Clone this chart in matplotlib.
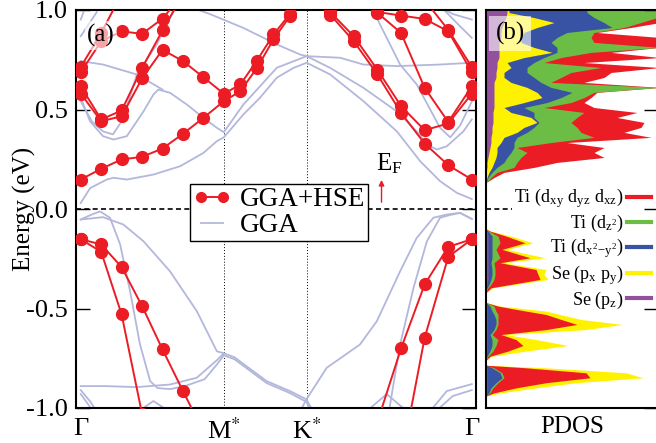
import numpy as np
import matplotlib.pyplot as plt
from matplotlib.lines import Line2D

plt.rcParams['font.family'] = 'serif'
plt.rcParams['font.serif'] = ['Liberation Serif', 'DejaVu Serif']
plt.rcParams['mathtext.fontset'] = 'stix'

# k-path Gamma - M* - K* - Gamma (hexagonal, 1/sqrt3, 1/3, 2/3)
k_ticks = [0.0, 0.5774, 0.9107, 1.5774]
k_labels = ['\u0393', r'M$^{*}$', r'K$^{*}$', '\u0393']
k_hse = np.concatenate([np.linspace(0.0, 0.5774, 8),
                        np.linspace(0.5774, 0.9107, 6)[1:],
                        np.linspace(0.9107, 1.5774, 8)[1:]])

nan = np.nan
# GGA+HSE bands on the 20 k-points (eV)
hse_c1 = [0.148, 0.202, 0.249, 0.262, 0.304, 0.378, 0.458, 0.542, 0.592, 0.709,
          0.852, 0.970, 1.08, 0.977, 0.843, 0.676, 0.483, 0.329, 0.220, 0.148]
hse_c2 = [0.580, 0.441, 0.466, 0.656, 0.800, 0.743, 0.662, 0.579, 0.626, 0.746,
          0.877, 0.980, 1.10, 0.990, 0.868, 0.700, 0.517, 0.396, 0.430, 0.580]
hse_c3 = [0.617, 0.450, 0.495, 0.709, 0.897, 1.08, nan, nan, nan, nan,
          nan, nan, nan, nan, 1.10, 0.986, 0.885, 0.609, 0.437, 0.617]
hse_c4 = [0.687, 0.843, 0.893, 0.880, 0.957, 1.08, nan, nan, nan, nan,
          nan, nan, nan, nan, 1.08, 0.990, 0.972, 0.955, 0.893, 0.687]
hse_c5 = [0.713, 0.885, 1.08, nan, nan, nan, nan, nan, nan, nan,
          nan, nan, nan, nan, nan, nan, nan, 1.05, 0.900, 0.713]
hse_v1 = [-0.152, -0.178, -0.292, -0.488, -0.706, -0.915, -1.12, nan, nan, nan,
          nan, nan, nan, nan, nan, -1.07, -0.701, -0.379, -0.190, -0.152]
hse_v2 = [-0.152, -0.215, -0.530, -1.03, nan, nan, nan, nan, nan, nan,
          nan, nan, nan, nan, nan, nan, -1.27, -0.647, -0.240, -0.152]
hse_bands = [hse_c1, hse_c2, hse_c3, hse_c4, hse_c5, hse_v1, hse_v2]

# GGA bands as (k, E) traces
gga_bands = [
    [(0, 0.03), (0.038, 0.105), (0.105, 0.148), (0.132, 0.157), (0.186, 0.148),
     (0.293, 0.173), (0.401, 0.215), (0.495, 0.282), (0.549, 0.341), (0.577, 0.36),
     (0.656, 0.475), (0.723, 0.559), (0.791, 0.66), (0.858, 0.709), (0.911, 0.735),
     (1.006, 0.676), (1.140, 0.542), (1.275, 0.39), (1.369, 0.24), (1.449, 0.14),
     (1.517, 0.081), (1.577, 0.05)],
    [(0, 0.559), (0.038, 0.44), (0.090, 0.366), (0.132, 0.349), (0.186, 0.366),
     (0.253, 0.49), (0.293, 0.575), (0.313, 0.60), (0.360, 0.584), (0.428, 0.525),
     (0.495, 0.458), (0.549, 0.408), (0.577, 0.386), (0.656, 0.525), (0.791, 0.71),
     (0.911, 0.768), (1.006, 0.709), (1.140, 0.609), (1.275, 0.49), (1.355, 0.39),
     (1.396, 0.324), (1.436, 0.299), (1.476, 0.315), (1.543, 0.39), (1.577, 0.45)],
    [(0, 0.542), (0.045, 0.44), (0.09, 0.39), (0.13, 0.375), (0.17, 0.45),
     (0.20, 0.57), (0.226, 0.676), (0.307, 0.827), (0.36, 0.96), (0.40, 1.05)],
    [(1.15, 1.05), (1.180, 0.994), (1.288, 0.726), (1.355, 0.626), (1.449, 0.408),
     (1.49, 0.36), (1.53, 0.42), (1.577, 0.54)],
    [(0, 0.743), (0.09, 0.726), (0.226, 0.676), (0.33, 0.60)],
    [(0, 0.868), (0.063, 0.986), (0.08, 1.05)],
    [(0, 0.952), (0.03, 1.05)],
    [(0.43, 1.02), (0.52, 0.98), (0.656, 0.91), (0.791, 0.827), (0.885, 0.776),
     (0.911, 0.768), (1.046, 0.76), (1.140, 0.726), (1.275, 0.718), (1.449, 0.726),
     (1.577, 0.735)],
    [(1.45, 1.02), (1.52, 0.93), (1.577, 0.86)],
    [(1.40, 1.05), (1.50, 0.98), (1.577, 0.952)],
    [(0, -0.053), (0.04, -0.03), (0.078, -0.012), (0.118, -0.044), (0.159, -0.178),
     (0.199, -0.413), (0.239, -0.68), (0.28, -0.865), (0.31, -0.90), (0.36, -0.905),
     (0.42, -0.89), (0.50, -0.855), (0.55, -0.78), (0.577, -0.735)],
    [(0, -0.89), (0.1, -0.89), (0.226, -0.895), (0.36, -0.882), (0.468, -0.848),
     (0.549, -0.76), (0.577, -0.725)],
    [(0, -0.053), (0.09, -0.041), (0.172, -0.078), (0.253, -0.162), (0.360, -0.313),
     (0.468, -0.513), (0.549, -0.715), (0.577, -0.725), (0.62, -0.745),
     (0.75, -0.865), (0.844, -0.915), (0.911, -0.957), (0.95, -1.05)],
    [(0.577, -0.735), (0.62, -0.755), (0.75, -0.875), (0.844, -0.925),
     (0.911, -0.97), (0.94, -1.05)],
    [(0.87, -1.05), (0.911, -0.955), (0.992, -0.798), (1.126, -0.681),
     (1.194, -0.564), (1.288, -0.313), (1.355, -0.145), (1.422, -0.044),
     (1.476, -0.028), (1.53, -0.019), (1.577, -0.05)],
    [(1.577, -0.05), (1.53, -0.02), (1.490, -0.03), (1.449, -0.044), (1.396, -0.162),
     (1.342, -0.396), (1.288, -0.681), (1.261, -0.882), (1.248, -0.98), (1.24, -1.05)],
    [(0.23, -1.02), (0.293, -0.965), (0.36, -1.02)],
    [(1.14, -1.03), (1.234, -0.93), (1.30, -1.0)],
    [(1.40, -1.03), (1.476, -0.915), (1.577, -0.88)],
    [(1.42, -1.03), (1.50, -0.94), (1.577, -0.91)],
    [(0, -0.91), (0.04, -0.97), (0.08, -1.05)],
    [(0, -0.93), (0.035, -0.99), (0.06, -1.05)],
]

# projected DOS above E_F (arb. units)
e_cb = [0.133, 0.158, 0.184, 0.209, 0.234, 0.259, 0.284, 0.309, 0.334, 0.360,
        0.385, 0.410, 0.435, 0.460, 0.485, 0.510, 0.535, 0.560, 0.586, 0.611,
        0.636, 0.661, 0.686, 0.711, 0.736, 0.761, 0.787, 0.812, 0.837, 0.862,
        0.887, 0.912, 0.937, 0.962, 0.987, 1.0]
cb_se_pz = [0, 0, 0, .1, .1, .2, .3, .4, .5, .5, .6, .6, .7, .7, .7, .8, .8, .8,
            .8, .8, .8, 1.0, 1.0, 1.1, 1.1, 1.3, 1.3, 1.3, 1.3, 1.5, 1.5, 1.6, 1.8,
            2.0, 2.1, 2.1]
cb_se_pxpy = [0, .1, .3, .5, .7, .8, .8, .7, 1.0, 1.3, 2.5, 3.2, 4.4, 3.8, 1.8,
              1.0, 3.0, 4.8, 4.3, 3.3, 1.7, .8, .8, 1.4, 1.0, 2.5, 5.3, 3.5, 2.2,
              2.0, 2.3, 3.5, 5.0, 2.8, .2, .2]
cb_ti_dx2y2 = [0, .1, .3, .5, 1.0, 1.1, 1.4, 1.7, 1.3, 1.3, 1.0, 1.0, .2, .3, 2.3,
               2.0, 2.3, 1.9, 3.5, 2.4, 3.0, 3.0, 2.3, 1.6, 2.7, 2.0, .5, 2.3, 3.0,
               3.6, 4.3, 7.5, 5.0, 6.0, 7.8, 7.8]
cb_ti_dz2 = [0, .3, .5, 1.7, 1.3, 1.4, 1.6, .3, 3.7, 7.7, 5.4, 4.3, 3.2, 4.3, 5.0,
             2.0, 2.4, 2.3, 2.2, 10.9, 1.0, 2.7, 4.4, 7.4, 1.0, 1.7, 3.4, 10.3, 4.3,
             3.4, 2.7, 1.2, 3.7, 6.3, 7.3, 7.3]
cb_ti_dxy = [0, .3, .7, 2.0, 4.0, 8.3, 6.7, 8.7, 1.6, 5.7, 4.3, 6.4, 7.3, 4.0, 5.3,
             5.0, 1.3, .7, .3, 0, 3.3, 4.3, 4.0, 5.9, 4.0, 9.9, 2.0, 0, 6.6, 6.9,
             .3, .7, 1.9, .3, 0, 0]

# projected DOS below E_F
e_vb = [-0.94, -0.924, -0.899, -0.873, -0.848, -0.823, -0.798, -0.785, -0.76, -0.74,
        -0.714, -0.686, -0.656, -0.631, -0.606, -0.580, -0.555, -0.530, -0.513,
        -0.488, -0.47, -0.42, -0.396, -0.379, -0.354, -0.329, -0.304, -0.270,
        -0.245, -0.203, -0.170, -0.136, -0.111, -0.10]
vb_se_pz = [0, .1, .1, .1, .1, .1, .1, 0, 0, 0, .1, .1, .1, .1, .1, .1, .1, .1, .1,
            .1, 0, 0, 0, .1, .2, .2, .2, .2, .2, .2, .2, .2, .1, 0]
vb_ti_dx2y2 = [0, .2, .4, .9, 1.5, 1.3, .5, 0, 0, .1, .3, .5, .5, .3, .7, .9, .9, .7,
               .5, .3, 0, 0, .1, .2, .3, .4, .4, .3, .4, .4, .4, .4, .1, 0]
vb_ti_dz2 = [0, .1, .2, .2, .2, .2, .2, 0, 0, .1, .3, .4, .6, .2, .2, .2, .2, .4, .4,
             .4, 0, 0, .1, .2, .3, .3, .3, .3, .8, .4, .8, .6, .1, 0]
vb_ti_dxy = [0, .4, 2.3, 4.8, 8.6, 8.4, 3.2, 0, 0, .2, 1.5, 2.7, 1.8, .9, 5.0, 7.9,
             6.3, 4.8, 3.0, .4, 0, 0, .3, 2.0, 4.6, 4.3, 4.1, .6, 3.0, .6, 2.5, .8, .1, 0]
vb_se_pxpy = [0, .7, 2.0, 3.0, 5.3, 4.0, 2.0, 0, 0, .2, 1.8, 4.5, 2.0, .5, 4.0, 4.5,
              2.0, 1.4, 2.0, .3, 0, 0, .2, .5, .8, .6, 1.0, .4, 1.5, .5, .8, .5, .1, 0]

c_red, c_green, c_blue, c_yellow, c_purple = '#ec1c24', '#6cbd45', '#3953a4', '#fff200', '#93509e'
c_gga = '#b3b7dc'

fig = plt.figure(figsize=(6.56, 4.43), dpi=100)
ax = fig.add_axes([76 / 656, 35 / 443, 400 / 656, 398 / 443])
ax2 = fig.add_axes([486 / 656, 35 / 443, 172 / 656, 398 / 443])

for band in gga_bands:
    kk, ee = zip(*band)
    ax.plot(kk, ee, color=c_gga, lw=1.3, zorder=2)
for band in hse_bands:
    ax.plot(k_hse, band, '-o', color=c_red, lw=1.4, ms=8.5, zorder=3)

for kt in k_ticks[1:3]:
    ax.axvline(kt, color='k', lw=0.7, ls=(0, (1, 2)), zorder=1)
ax.axhline(0, color='k', lw=1.2, ls=(0, (3, 2)), zorder=1)

ax.set_xlim(-0.019, 1.594)
ax.set_ylim(-1, 1)
ax.set_xticks(k_ticks)
ax.set_xticklabels(k_labels)
ax.set_yticks([-1.0, -0.5, 0.0, 0.5, 1.0])
ax.set_yticklabels(['-1.0', '-0.5', '0.0', '0.5', '1.0'])
ax.tick_params(axis='y', direction='in', length=10, width=1, right=True,
               labelsize=19, pad=6)
ax.tick_params(axis='x', length=0, labelsize=19, pad=7)
ax.set_ylabel('Energy (eV)', fontsize=18, labelpad=-7)
for s in ax.spines.values():
    s.set_linewidth(1.5)

leg_h = [Line2D([], [], color=c_red, marker='o', ms=7, lw=1.4),
         Line2D([], [], color=c_gga, lw=1.3)]
leg = ax.legend(leg_h, ['GGA+HSE', 'GGA'], loc='upper left',
                bbox_to_anchor=(0.285, 0.562), fontsize=19.5, numpoints=2,
                handlelength=1.4, handletextpad=0.35, borderpad=0.1,
                borderaxespad=0, labelspacing=0.05, fancybox=False,
                edgecolor='k', framealpha=1)
leg.get_frame().set_linewidth(1.0)
leg.set_zorder(10)

ax.text(0.0625, 0.936, '(a)', transform=ax.transAxes, fontsize=18,
        ha='center', va='center', zorder=6,
        bbox=dict(boxstyle='square,pad=0.1', fc='white', ec='none', alpha=0.6))
ax.annotate('', xy=(1.213, 0.16), xytext=(1.213, 0.02),
            arrowprops=dict(arrowstyle='-|>', color=c_red, lw=1.0,
                            mutation_scale=8), zorder=6)
ax.text(1.19, 0.19, r'E$_\mathregular{F}$', fontsize=18, ha='left',
        va='baseline', zorder=6)

# stacked PDOS, outermost layer drawn first
cb_layers = [(cb_se_pz, c_purple), (cb_se_pxpy, c_yellow), (cb_ti_dx2y2, c_blue),
             (cb_ti_dz2, c_green), (cb_ti_dxy, c_red)]
vb_layers = [(vb_se_pz, c_purple), (vb_ti_dx2y2, c_blue), (vb_ti_dz2, c_green),
             (vb_ti_dxy, c_red), (vb_se_pxpy, c_yellow)]
for e, layers in [(e_cb, cb_layers), (e_vb, vb_layers)]:
    cum = np.cumsum([np.array(v) for v, _ in layers], axis=0)
    for i in range(len(layers) - 1, -1, -1):
        ax2.fill_betweenx(e, 0, cum[i], color=layers[i][1], lw=0)

ax2.axhline(0, xmax=0.15, color='k', lw=1.2, ls=(0, (3, 2)), zorder=1)
ax2.set_xlim(0, 17.2)
ax2.set_ylim(-1, 1)
ax2.set_xticks([])
ax2.set_yticks([-1.0, -0.5, 0.0, 0.5, 1.0])
ax2.tick_params(axis='y', direction='in', length=10, width=1, right=True,
                left=False, labelleft=False)
ax2.set_xlabel('PDOS', fontsize=18, labelpad=6)
for s in ax2.spines.values():
    s.set_linewidth(1.5)

pdos_h = [Line2D([], [], color=c, lw=3) for c in
          [c_red, c_green, c_blue, c_yellow, c_purple]]
pdos_l = [r'Ti (d$_\mathregular{xy}$ d$_\mathregular{yz}$ d$_\mathregular{xz}$)',
          r'Ti (d$_\mathregular{z^2}$)',
          r'Ti (d$_\mathregular{x^2\!-\!y^2}$)',
          r'Se (p$_\mathregular{x}$ p$_\mathregular{y}$)',
          r'Se (p$_\mathregular{z}$)']
leg2 = ax2.legend(pdos_h, pdos_l, loc='upper right', bbox_to_anchor=(0.959, 0.556),
                  fontsize=13, markerfirst=False, handlelength=1.3,
                  handletextpad=0.2, labelspacing=0.15, borderpad=0.0,
                  borderaxespad=0, frameon=False)
leg2.set_zorder(10)
ax2.text(0.14, 0.941, '(b)', transform=ax2.transAxes, fontsize=18,
         ha='center', va='center', zorder=6,
         bbox=dict(boxstyle='square,pad=0.25', fc='white', ec='none', alpha=0.6))

fig.savefig('out.png', dpi=100)
